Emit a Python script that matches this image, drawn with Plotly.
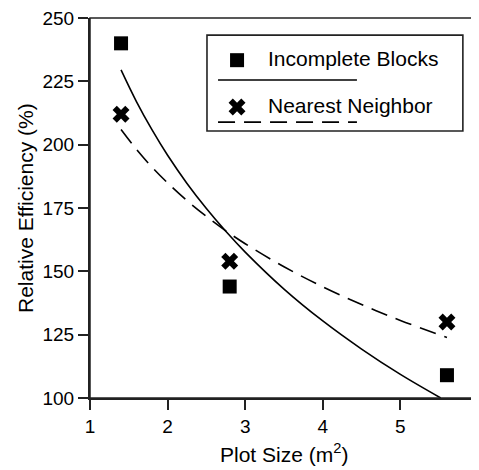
import plotly.graph_objects as go

# Observed data
plot_size = [1.4, 2.8, 5.6]
incomplete_blocks = [240, 144, 109]
nearest_neighbor = [212, 154, 130]

# Fitted curves
fit_x_ib = [1.4, 1.6, 1.8, 2.0, 2.25, 2.5, 2.75, 3.0, 3.5, 4.0, 4.5, 5.0, 5.52]
fit_ib = [229.5, 216.9, 205.8, 195.8, 184.7, 174.8, 165.8, 157.6, 143.0, 130.4, 119.3, 109.3, 100.0]
fit_x_nn = [1.4, 1.6, 1.8, 2.0, 2.25, 2.5, 2.75, 3.0, 3.5, 4.0, 4.5, 5.0, 5.6]
fit_nn = [206.0, 198.1, 191.1, 184.9, 177.9, 171.7, 166.0, 160.9, 151.8, 143.9, 136.9, 130.6, 123.9]

x_ticks = [1, 2, 3, 4, 5, 6]
y_ticks = [100, 125, 150, 175, 200, 225, 250]

FONT = "Liberation Sans, Arial, Helvetica, sans-serif"

fig = go.Figure()

fig.add_trace(go.Scatter(x=fit_x_ib, y=fit_ib, mode="lines",
                         line=dict(color="black", width=1.6, shape="spline"),
                         showlegend=False, hoverinfo="skip"))
fig.add_trace(go.Scatter(x=fit_x_nn, y=fit_nn, mode="lines",
                         line=dict(color="black", width=1.6, dash="17px,9px", shape="spline"),
                         showlegend=False, hoverinfo="skip"))
fig.add_trace(go.Scatter(x=plot_size, y=incomplete_blocks, mode="markers",
                         marker=dict(symbol="square", size=14, color="black"),
                         name="Incomplete Blocks", showlegend=False))
fig.add_trace(go.Scatter(x=plot_size, y=nearest_neighbor, mode="markers",
                         marker=dict(symbol="x", size=15, color="black"),
                         name="Nearest Neighbor", showlegend=False))

# Legend glyphs on an overlay axis in paper-fraction units
legend_labels = ["Incomplete Blocks", "Nearest Neighbor"]
legend_symbols = ["square", "x"]
legend_sizes = [14, 15]
legend_rows = [0.889, 0.766]
for lab, sym, sz, yy in zip(legend_labels, legend_symbols, legend_sizes, legend_rows):
    fig.add_trace(go.Scatter(x=[0.379], y=[yy], xaxis="x2", yaxis="y2", mode="markers",
                             marker=dict(symbol=sym, size=sz, color="black"),
                             showlegend=False, hoverinfo="skip"))
    fig.add_annotation(x=0.454, y=yy + 0.004, xref="paper", yref="paper", text=lab,
                       showarrow=False, xanchor="left", yanchor="middle",
                       font=dict(family=FONT, size=21, color="black"))

fig.add_shape(type="rect", xref="paper", yref="paper", x0=0.3015, x1=0.961, y0=0.7026, y1=0.955,
              line=dict(color="#222", width=1.6), fillcolor="rgba(0,0,0,0)")
fig.add_shape(type="line", xref="paper", yref="paper", x0=0.330, x1=0.688, y0=0.837, y1=0.837,
              line=dict(color="black", width=1.6))
fig.add_shape(type="line", xref="paper", yref="paper", x0=0.330, x1=0.688, y0=0.726, y1=0.726,
              line=dict(color="black", width=1.6, dash="17px,9px"))
# Frame (top/right)
fig.add_shape(type="rect", xref="paper", yref="paper", x0=0, x1=1, y0=0, y1=1,
              line=dict(color="#222", width=1.5), layer="above")

# Axis titles
fig.add_annotation(x=-0.1675, y=0.5, xref="paper", yref="paper", text="Relative Efficiency (%)",
                   textangle=-90, showarrow=False, xanchor="center", yanchor="middle",
                   font=dict(family=FONT, size=21, color="black"))
fig.add_annotation(x=0.5, y=-0.145, xref="paper", yref="paper", text="Plot Size (m<sup>2</sup>)",
                   showarrow=False, xanchor="center", yanchor="middle",
                   font=dict(family=FONT, size=21, color="black"))

fig.update_layout(
    width=471, height=462,
    margin=dict(l=82, r=1, t=10, b=72),
    paper_bgcolor="white", plot_bgcolor="white",
    font=dict(family=FONT, size=19, color="black"),
    xaxis=dict(range=[1, 6], tickvals=x_ticks, ticks="outside", ticklen=10, tickwidth=1.5,
               tickcolor="#222", showline=True, linecolor="#222", linewidth=2,
               showgrid=False, zeroline=False, automargin=False, ticklabeloverflow="allow",
               tickfont=dict(family=FONT, size=19, color="black")),
    yaxis=dict(range=[100, 250], tickvals=y_ticks, ticks="outside", ticklen=10, tickwidth=1.5,
               tickcolor="#222", showline=True, linecolor="#222", linewidth=2,
               showgrid=False, zeroline=False, automargin=False, ticklabeloverflow="allow",
               tickfont=dict(family=FONT, size=19, color="black")),
    xaxis2=dict(overlaying="x", range=[0, 1], visible=False),
    yaxis2=dict(overlaying="y", range=[0, 1], visible=False),
    showlegend=False,
)

fig.write_html("out.html")
